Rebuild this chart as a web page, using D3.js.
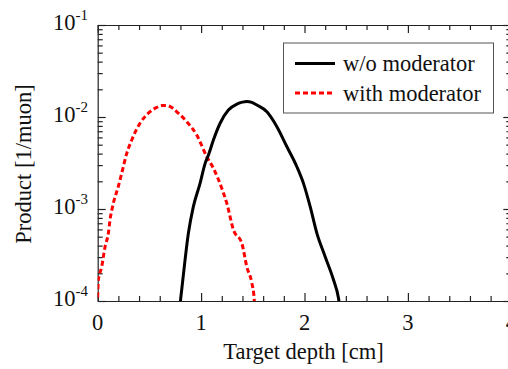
<!DOCTYPE html>
<html>
<head>
<meta charset="utf-8">
<script src="https://cdn.jsdelivr.net/npm/d3@7"></script>
<style>
  body { margin: 0; background: #fff; }
  svg { display: block; }
</style>
</head>
<body>
<div id="chart"></div>
<script>
// Muon product vs target depth (log scale)

const seriesNames = ["w/o moderator", "with moderator"];

const depthNoMod = [0.79, 0.80, 0.823, 0.877, 0.925, 0.99, 1.039, 1.071, 1.119, 1.184, 1.264, 1.346, 1.40, 1.442,
    1.49, 1.539, 1.636, 1.733, 1.83, 1.926, 1.99, 2.055, 2.12, 2.2, 2.281, 2.329, 2.345];
const productNoMod = [8e-5, 1.0e-4, 1.69e-4, 5.44e-4, 1.06e-3, 1.9e-3, 3.13e-3, 3.86e-3, 5.62e-3, 8.55e-3, 1.19e-2,
    1.38e-2, 1.45e-2, 1.47e-2, 1.44e-2, 1.35e-2, 1.14e-2, 7.85e-3, 4.75e-3, 2.88e-3, 1.9e-3, 1.06e-3, 5.44e-4,
    3.03e-4, 1.69e-4, 1.07e-4, 8e-5];

const depthMod = [0.0, 0.006, 0.039, 0.071, 0.103, 0.119, 0.151, 0.199, 0.232, 0.281, 0.329, 0.409, 0.49, 0.571,
    0.62, 0.668, 0.72, 0.765, 0.862, 0.958, 1.055, 1.119, 1.2, 1.249, 1.313, 1.394, 1.442, 1.491, 1.513, 1.52];
const productMod = [1.1e-4, 1.69e-4, 2.36e-4, 3.89e-4, 5.44e-4, 7.59e-4, 1.15e-3, 1.75e-3, 2.44e-3, 4.03e-3, 5.62e-3,
    8.55e-3, 1.1e-2, 1.27e-2, 1.33e-2, 1.33e-2, 1.26e-2, 1.14e-2, 8.89e-3, 6.37e-3, 3.7e-3, 2.77e-3, 1.68e-3,
    1.15e-3, 5.92e-4, 4.24e-4, 2.36e-4, 1.56e-4, 1.07e-4, 8e-5];

const xMajorTicks = [0, 1, 2, 3, 4];
const yMajorTicks = [1e-4, 1e-3, 1e-2, 1e-1];
const yTickExponents = ["-4", "-3", "-2", "-1"];

// Dimensions
const width = 508, height = 369;
const plot = { left: 97.7, right: 511.3, top: 25, bottom: 301 };
const fontFamily = '"Liberation Serif", "Times New Roman", serif';
const fontSize = 22.5;

const svg = d3.select("#chart")
    .append("svg")
    .attr("width", width)
    .attr("height", height);

// Scales
const xScale = d3.scaleLinear().domain([0, 4]).range([plot.left, plot.right]);
const yScale = d3.scaleLog().domain([1e-4, 1e-1]).range([plot.bottom, plot.top]);

const xMinorTicks = d3.range(0, 4.001, 0.2).filter(v => Math.abs(v - Math.round(v)) > 1e-6);
const yMinorTicks = [];
[1e-4, 1e-3, 1e-2].forEach(d => { for (let k = 2; k <= 9; k++) yMinorTicks.push(d * k); });

// Clip for curves
svg.append("clipPath").attr("id", "plot-clip")
    .append("rect")
    .attr("x", plot.left).attr("y", plot.top)
    .attr("width", plot.right - plot.left).attr("height", plot.bottom - plot.top);

function styleAxis(g, keepDomain) {
    g.selectAll(".tick line").attr("stroke", "#222").attr("stroke-width", 1.2);
    g.select(".domain").attr("stroke", keepDomain ? "#222" : "none").attr("stroke-width", 1.2);
}

// Bottom axis (ticks inward)
svg.append("g").attr("transform", `translate(0, ${plot.bottom})`)
    .call(d3.axisTop(xScale).tickValues(xMajorTicks).tickSize(8).tickSizeOuter(0).tickFormat(""))
    .call(g => styleAxis(g, true));
svg.append("g").attr("transform", `translate(0, ${plot.bottom})`)
    .call(d3.axisTop(xScale).tickValues(xMinorTicks).tickSize(5).tickSizeOuter(0).tickFormat(""))
    .call(g => styleAxis(g, false));

// Top axis
svg.append("g").attr("transform", `translate(0, ${plot.top})`)
    .call(d3.axisBottom(xScale).tickValues(xMajorTicks).tickSize(8).tickSizeOuter(0).tickFormat(""))
    .call(g => styleAxis(g, true));
svg.append("g").attr("transform", `translate(0, ${plot.top})`)
    .call(d3.axisBottom(xScale).tickValues(xMinorTicks).tickSize(5).tickSizeOuter(0).tickFormat(""))
    .call(g => styleAxis(g, false));

// Left axis
svg.append("g").attr("transform", `translate(${plot.left}, 0)`)
    .call(d3.axisRight(yScale).tickValues(yMajorTicks).tickSize(8).tickSizeOuter(0).tickFormat(""))
    .call(g => styleAxis(g, true));
svg.append("g").attr("transform", `translate(${plot.left}, 0)`)
    .call(d3.axisRight(yScale).tickValues(yMinorTicks).tickSize(5).tickSizeOuter(0).tickFormat(""))
    .call(g => styleAxis(g, false));

// Right axis
svg.append("g").attr("transform", `translate(${plot.right}, 0)`)
    .call(d3.axisLeft(yScale).tickValues(yMajorTicks).tickSize(8).tickSizeOuter(0).tickFormat(""))
    .call(g => styleAxis(g, true));
svg.append("g").attr("transform", `translate(${plot.right}, 0)`)
    .call(d3.axisLeft(yScale).tickValues(yMinorTicks).tickSize(5).tickSizeOuter(0).tickFormat(""))
    .call(g => styleAxis(g, false));

// X tick labels
svg.selectAll(".x-label")
    .data(xMajorTicks)
    .join("text")
    .attr("class", "x-label")
    .attr("x", d => xScale(d))
    .attr("y", 330)
    .attr("text-anchor", "middle")
    .style("font-family", fontFamily)
    .style("font-size", fontSize + "px")
    .attr("fill", "#111")
    .text(d => d);

// Y tick labels: 10 with superscript exponent
yMajorTicks.forEach((v, i) => {
    const t = svg.append("text")
        .attr("x", 88)
        .attr("y", yScale(v) + 5)
        .attr("text-anchor", "end")
        .style("font-family", fontFamily)
        .style("font-size", fontSize + "px")
        .attr("fill", "#111");
    t.append("tspan").text("10");
    t.append("tspan").style("font-size", "15px").attr("dy", -10).text(yTickExponents[i]);
});

// Axis titles
svg.append("text")
    .attr("x", 303.5)
    .attr("y", 359)
    .attr("text-anchor", "middle")
    .style("font-family", fontFamily)
    .style("font-size", fontSize + "px")
    .attr("fill", "#111")
    .text("Target depth [cm]");

svg.append("text")
    .attr("transform", "translate(31, 164) rotate(-90)")
    .attr("text-anchor", "middle")
    .style("font-family", fontFamily)
    .style("font-size", fontSize + "px")
    .attr("fill", "#111")
    .text("Product [1/muon]");

// Curves
const line = d3.line()
    .x(d => xScale(d[0]))
    .y(d => yScale(d[1]))
    .curve(d3.curveMonotoneX);

const curves = svg.append("g").attr("clip-path", "url(#plot-clip)");

curves.append("path")
    .datum(d3.zip(depthMod, productMod))
    .attr("d", line)
    .attr("fill", "none")
    .attr("stroke", "#ff0000")
    .attr("stroke-width", 3)
    .attr("stroke-dasharray", "5,3");

curves.append("path")
    .datum(d3.zip(depthNoMod, productNoMod))
    .attr("d", line)
    .attr("fill", "none")
    .attr("stroke", "#000")
    .attr("stroke-width", 3);

// Legend
const legend = svg.append("g");
legend.append("rect")
    .attr("x", 283.5).attr("y", 43)
    .attr("width", 210).attr("height", 70)
    .attr("fill", "#fff")
    .attr("stroke", "#555")
    .attr("stroke-width", 1);

const legendStyles = [
    { stroke: "#000", dash: null },
    { stroke: "#ff0000", dash: "5,3" }
];

seriesNames.forEach((name, i) => {
    const yPos = 63.5 + i * 29.5;
    legend.append("line")
        .attr("x1", 295).attr("x2", 335)
        .attr("y1", yPos).attr("y2", yPos)
        .attr("stroke", legendStyles[i].stroke)
        .attr("stroke-width", 3)
        .attr("stroke-dasharray", legendStyles[i].dash);
    legend.append("text")
        .attr("x", 343)
        .attr("y", yPos + 7.5)
        .style("font-family", fontFamily)
        .style("font-size", fontSize + "px")
        .attr("fill", "#111")
        .text(name);
});
</script>
</body>
</html>
